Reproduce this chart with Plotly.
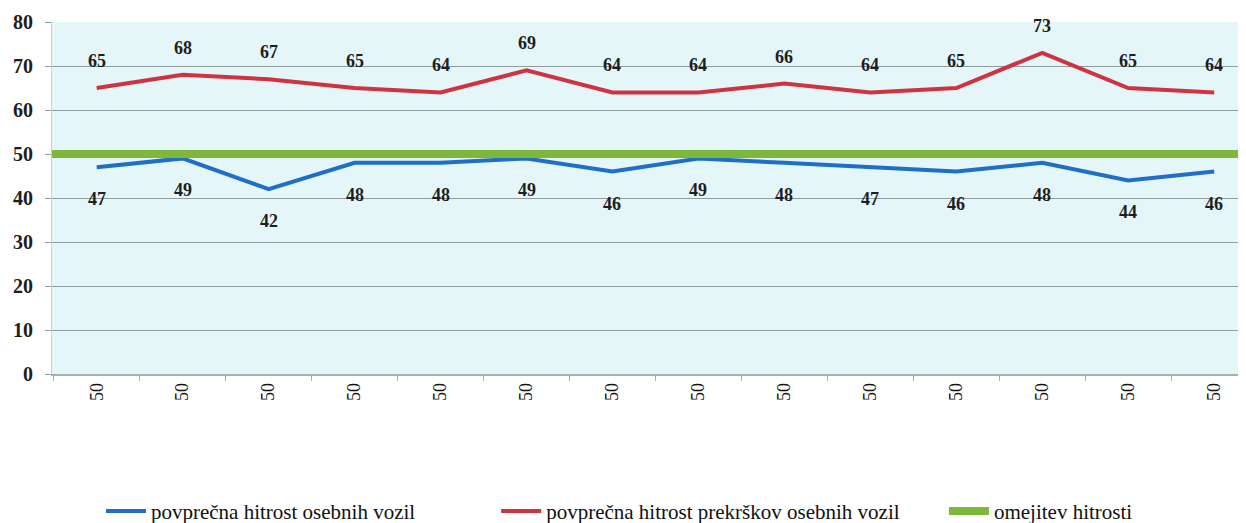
import plotly.graph_objects as go

# measuring points (each labelled with its speed limit, 50 km/h)
points = list(range(14))
point_labels = ["50", "50", "50", "50", "50", "50", "50", "50", "50", "50", "50", "50", "50", "50"]

avg_speed = [47, 49, 42, 48, 48, 49, 46, 49, 48, 47, 46, 48, 44, 46]
avg_violation_speed = [65, 68, 67, 65, 64, 69, 64, 64, 66, 64, 65, 73, 65, 64]
speed_limit = 50

serif = "Liberation Serif, Times New Roman, serif"
blue = "#1f6fc8"
red = "#cf3341"
green = "#7db83a"

fig = go.Figure()

fig.add_trace(go.Scatter(
    x=points, y=avg_speed,
    mode="lines",
    name="povprečna hitrost osebnih vozil",
    line=dict(color=blue, width=4),
    legend="legend"
))

fig.add_trace(go.Scatter(
    x=points, y=avg_violation_speed,
    mode="lines",
    name="povprečna hitrost prekrškov osebnih vozil",
    line=dict(color=red, width=4),
    legend="legend2"
))

# speed limit runs across the whole plot area
fig.add_hline(y=speed_limit, line=dict(color=green, width=8), layer="above")

# legend entry for the speed limit line
fig.add_trace(go.Scatter(
    x=[None], y=[None],
    mode="lines",
    name="omejitev hitrosti",
    line=dict(color=green, width=8),
    legend="legend3"
))

# value labels: red above the line, blue below
for x, v in zip(points, avg_violation_speed):
    fig.add_annotation(x=x, y=v, text="<b>%d</b>" % v, showarrow=False, yshift=27,
                       font=dict(family=serif, size=18, color="#1e1e1e"))
for x, v in zip(points, avg_speed):
    fig.add_annotation(x=x, y=v, text="<b>%d</b>" % v, showarrow=False, yshift=-32,
                       font=dict(family=serif, size=18, color="#1e1e1e"))

legend_style = dict(
    orientation="h",
    xanchor="left",
    y=-0.39, yanchor="middle",
    font=dict(family=serif, size=21, color="#111111"),
    itemwidth=40,
    bgcolor="rgba(0,0,0,0)"
)

# page body adds an 8px offset, so the figure is sized to fit the window
fig.update_layout(
    width=1238, height=515,
    margin=dict(l=44, r=0, t=14, b=149, autoexpand=False),
    paper_bgcolor="white",
    plot_bgcolor="#e5f6f9",
    font=dict(family=serif, size=18, color="black"),
    showlegend=True,
    legend=dict(legend_style, x=0.041),
    legend2=dict(legend_style, x=0.372),
    legend3=dict(legend_style, x=0.747),
    xaxis=dict(
        range=[-0.52, 13.37],
        tickmode="array",
        tickvals=points,
        ticktext=point_labels,
        tickangle=-90,
        ticks="",
        showgrid=False,
        zeroline=False,
        showline=True,
        linecolor="#9fb3b5",
        linewidth=1.5,
        tickfont=dict(family=serif, size=18, color="#111111"),
        minor=dict(tick0=0.5, dtick=1, ticks="outside", ticklen=5,
                   tickcolor="#9fb3b5", showgrid=False)
    ),
    yaxis=dict(
        range=[0, 80],
        dtick=10,
        showgrid=True,
        gridcolor="#8e9c9c",
        gridwidth=1.3,
        zeroline=False,
        showline=True,
        linecolor="#b9d3d6",
        ticks="outside",
        ticklen=6,
        tickcolor="#8e9c9c",
        ticklabelstandoff=8,
        tickfont=dict(family=serif, size=20, color="#1e1e1e", weight="bold")
    )
)

fig.write_html("out.html")
